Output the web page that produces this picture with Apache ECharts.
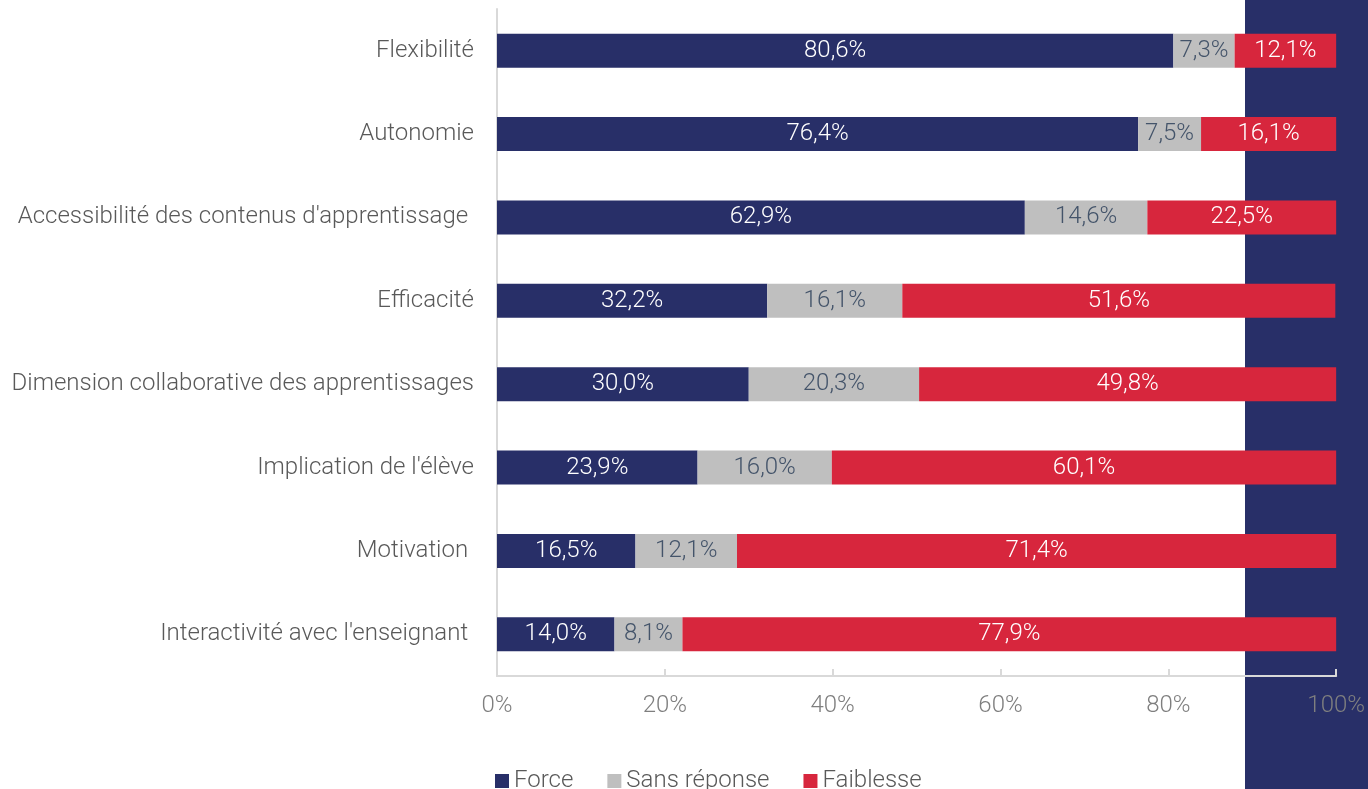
<!DOCTYPE html>
<html>
<head>
<meta charset="utf-8">
<title>Forces et faiblesses</title>
<script src="https://cdn.jsdelivr.net/npm/echarts@6/dist/echarts.min.js"></script>
<style>
  html, body { margin: 0; padding: 0; background: #ffffff; }
  #chart { width: 1368px; height: 789px; }
</style>
</head>
<body>
<div id="chart"></div>
<script>
// Categories, listed from top to bottom
const categories = [
  'Flexibilité',
  'Autonomie',
  'Accessibilité des contenus d\'apprentissage ',
  'Efficacité',
  'Dimension collaborative des apprentissages',
  'Implication de l\'élève',
  'Motivation ',
  'Interactivité avec l\'enseignant '
];

// Shares in percent
const forceValues       = [80.6, 76.4, 62.9, 32.2, 30.0, 23.9, 16.5, 14.0];
const sansReponseValues = [7.3, 7.5, 14.6, 16.1, 20.3, 16.0, 12.1, 8.1];
const faiblesseValues   = [12.1, 16.1, 22.5, 51.6, 49.8, 60.1, 71.4, 77.9];

const xTicks = [0, 20, 40, 60, 80, 100];

const NAVY = '#282f68';
const GREY = '#bfbfbf';
const RED = '#d7263d';
const FONT = 'Roboto, "Liberation Sans", sans-serif';
const FS = 24;

const fmt = v => v.toFixed(1).replace('.', ',') + '%';

function barSeries(name, values, color, labelColor) {
  return {
    name: name,
    type: 'bar',
    stack: 'total',
    barWidth: 34,
    data: values,
    itemStyle: { color: color },
    label: {
      show: true,
      position: 'inside',
      formatter: p => fmt(p.value),
      color: labelColor,
      fontFamily: FONT,
      fontWeight: 300,
      fontSize: FS,
      padding: [4, 0, 0, 0]
    },
    emphasis: { disabled: true }
  };
}

const chart = echarts.init(document.getElementById('chart'), null, { renderer: 'canvas' });

chart.setOption({
  animation: false,
  textStyle: { fontFamily: FONT },
  graphic: [{
    type: 'rect',
    z: -10,
    silent: true,
    shape: { x: 1245, y: 0, width: 123, height: 789 },
    style: { fill: NAVY }
  }],
  grid: { left: 497, right: 29, top: 9, bottom: 113, containLabel: false },
  legend: {
    left: 490,
    top: 764,
    itemWidth: 14,
    itemHeight: 14,
    itemGap: 34,
    icon: 'rect',
    textStyle: { color: '#595959', fontFamily: FONT, fontWeight: 300, fontSize: FS },
    data: ['Force', 'Sans réponse', 'Faiblesse']
  },
  xAxis: {
    type: 'value',
    min: xTicks[0],
    max: xTicks[xTicks.length - 1],
    interval: 20,
    axisLine: { show: true, lineStyle: { color: '#d9d9d9', width: 2 } },
    axisTick: { show: true, inside: true, length: 7, lineStyle: { color: '#d9d9d9', width: 2 } },
    splitLine: { show: false },
    axisLabel: {
      formatter: '{value}%',
      color: '#7f7f7f',
      fontFamily: FONT,
      fontWeight: 300,
      fontSize: FS,
      margin: 18
    }
  },
  yAxis: {
    type: 'category',
    inverse: true,
    data: categories,
    axisLine: { show: true, lineStyle: { color: '#d9d9d9', width: 2 } },
    axisTick: { show: false },
    axisLabel: {
      color: '#595959',
      fontFamily: FONT,
      fontWeight: 300,
      fontSize: FS,
      margin: 23,
      padding: [4, 0, 0, 0]
    }
  },
  series: [
    barSeries('Force', forceValues, NAVY, '#ffffff'),
    barSeries('Sans réponse', sansReponseValues, GREY, '#44546a'),
    barSeries('Faiblesse', faiblesseValues, RED, '#ffffff')
  ]
});
</script>
</body>
</html>
